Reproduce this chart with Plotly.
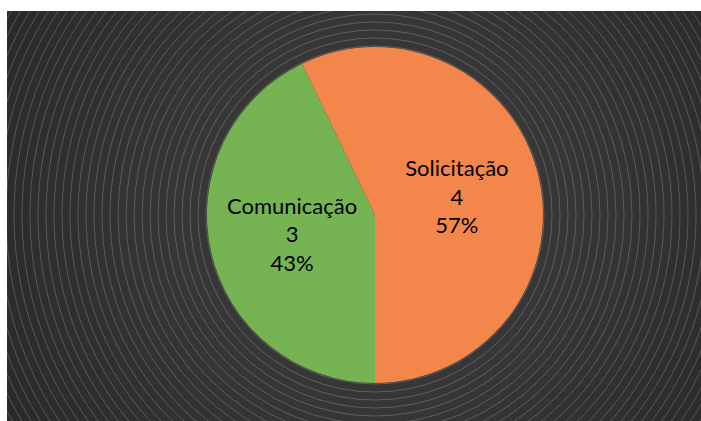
import plotly.graph_objects as go

labels = ["Comunicação", "Solicitação"]
values = [3, 4]
colors = ["#76b352", "#f3864a"]

W, H = 701, 421
# pie placement (pixels)
CX, CY, R = 375, 215, 168

fig = go.Figure()

# invisible trace to create a pixel-space cartesian canvas for the background
fig.add_trace(go.Scatter(x=[None], y=[None], showlegend=False, hoverinfo="skip"))

fig.add_trace(go.Pie(
    labels=labels,
    values=values,
    sort=False,
    direction="clockwise",
    rotation=180,
    marker=dict(colors=colors, line=dict(width=0)),
    textinfo="label+value+percent",
    texttemplate="%{label}<br>%{value}<br>%{percent:.0%}",
    textposition="inside",
    insidetextorientation="horizontal",
    textfont=dict(family="Lato", size=22, color="#000000"),
    domain=dict(x=[(CX - R) / W, (CX + R) / W], y=[1 - (CY + R) / H, 1 - (CY - R) / H]),
    showlegend=False,
    hoverinfo="label+value+percent",
))

shapes = []
# radial gradient (lighter toward the centre)
r = 440
while r >= 170:
    shapes.append(dict(type="circle", xref="x", yref="y", layer="below",
                       x0=CX - r, x1=CX + r, y0=CY - r, y1=CY + r,
                       fillcolor="rgba(255,255,255,0.008)", line=dict(width=0)))
    r -= 18
# concentric thin rings
r = 169
while r <= 460:
    shapes.append(dict(type="circle", xref="x", yref="y", layer="below",
                       x0=CX - r, x1=CX + r, y0=CY - r, y1=CY + r,
                       fillcolor="rgba(0,0,0,0)",
                       line=dict(width=1, color="rgba(255,255,255,0.2)")))
    r += 8

fig.update_layout(
    width=W, height=H,
    margin=dict(l=0, r=0, t=0, b=0),
    paper_bgcolor="#ffffff",
    plot_bgcolor="#282828",
    xaxis=dict(domain=[7 / W, 1], range=[7, W], visible=False, fixedrange=True),
    yaxis=dict(domain=[0, 1 - 11 / H], range=[H, 11], visible=False, fixedrange=True),
    shapes=shapes,
)

fig.write_html("out.html")
